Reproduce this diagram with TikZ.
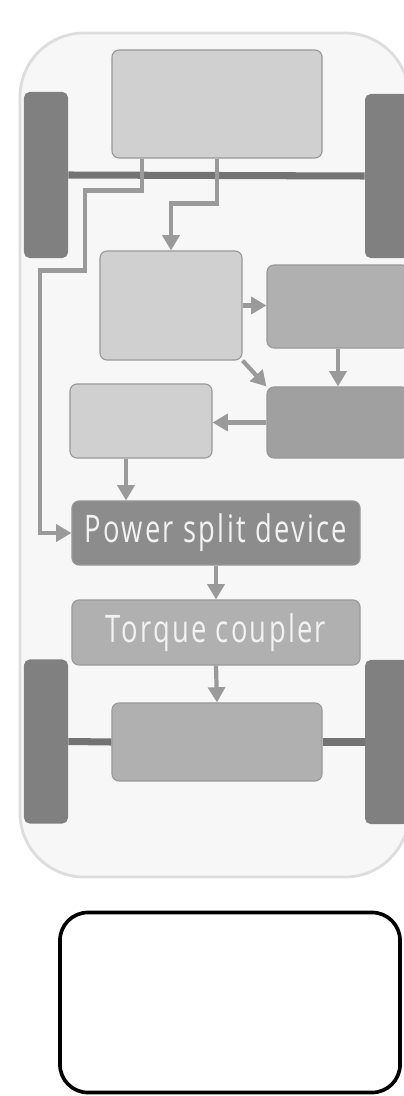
\documentclass[tikz,border=0pt]{standalone}
\usepackage{fontspec}
\setmainfont{Open Sans}
\newfontfamily\labelfont[FakeStretch=0.72,LetterSpace=6]{Open Sans}
\usepackage{tikz}
\usetikzlibrary{arrows.meta,positioning}
\definecolor{bodyfill}{HTML}{F7F7F7}
\definecolor{bodyline}{HTML}{DDDDDD}
\definecolor{lightbox}{HTML}{D0D0D0}
\definecolor{midbox}{HTML}{B0B0B0}
\definecolor{darkbox}{HTML}{A0A0A0}
\definecolor{psdbox}{HTML}{8C8C8C}
\definecolor{boxline}{HTML}{999999}
\definecolor{wheelgray}{HTML}{808080}
\definecolor{linkgray}{HTML}{9A9A9A}

\begin{document}
\begin{tikzpicture}[
  x=0.025cm, y=-0.025cm,
  block/.style={draw=boxline,line width=0.8pt,rounded corners=5pt,
    inner sep=0pt,align=center},
  wheel/.style={fill=wheelgray,rounded corners=4pt,minimum width=1.1cm,
    inner sep=0pt},
  axle/.style={draw=wheelgray!110,line width=5pt},
  link/.style={draw=linkgray,line width=3pt},
  arrow/.style={link,-{Triangle[length=3.8mm,width=4.2mm]}},
  blocktext/.style={font=\labelfont\fontsize{27}{30}\selectfont,
    text=white!95!black}
]
  \useasboundingbox (0,0) rectangle (403,1096);

  % car body
  \draw[fill=bodyfill,draw=bodyline,line width=2pt,rounded corners=1.6cm]
    (20,33) rectangle (409,877);

  % wheels
  \node[wheel,minimum height=4.15cm] (fl) at (46,175) {};
  \node[wheel,minimum height=4.1cm] (fr) at (387,176) {};
  \node[wheel,minimum height=4.1cm] (rl) at (46,741.5) {};
  \node[wheel,minimum height=4.1cm] (rr) at (387,742) {};

  % blocks
  \node[block,fill=lightbox,minimum width=5.25cm,minimum height=2.7cm]
    (engine) at (217,104) {};
  \node[block,fill=lightbox,minimum width=3.55cm,minimum height=2.725cm]
    (gen) at (171,305.5) {};
  \node[block,fill=midbox,minimum width=3.55cm,minimum height=2.075cm]
    (motor) at (338,306.5) {};
  \node[block,fill=darkbox,minimum width=3.55cm,minimum height=1.775cm]
    (inverter) at (338,422.5) {};
  \node[block,fill=lightbox,minimum width=3.55cm,minimum height=1.85cm]
    (battery) at (141,421) {};
  \node[block,fill=psdbox,minimum width=7.2cm,minimum height=1.6cm,
    blocktext] (psd) at (216,533) {Power split device};
  \node[block,fill=midbox,minimum width=7.2cm,minimum height=1.625cm,
    blocktext] (tc) at (216,632.5) {Torque coupler};
  \node[block,fill=midbox,minimum width=5.25cm,minimum height=1.95cm]
    (diff) at (217,742) {};

  % axles
  \draw[axle] (fl.east) -- (fr.west);
  \draw[axle] (rl.east) -- (diff.west);
  \draw[axle] (diff.east) -- (rr.west);

  % connectors
  \draw[arrow] ([xshift=-1.875cm]engine.south) -- ++(0,32) -- ++(-57,0)
    -- ++(0,80) -- ++(-45,0) |- (psd.west);
  \draw[arrow] (engine.south) -- ++(0,45) -| (gen.north);
  \draw[arrow] (gen.east) -- (gen.east -| motor.west);
  \draw[arrow] (gen.south east) -- (inverter.north west);
  \draw[arrow] (motor.south) -- (inverter.north);
  \draw[arrow] (inverter.west) -- (inverter.west -| battery.east);
  \draw[arrow] ([xshift=-0.375cm]battery.south)
    -- ([xshift=-0.375cm]battery.south |- psd.north);
  \draw[arrow] (psd.south) -- (tc.north);
  \draw[arrow] (tc.south) -- (diff.north);

  % legend frame
  \node[draw=black,line width=2.6pt,rounded corners=0.7cm,
    minimum width=8.5cm,minimum height=4.5cm] (legend) at (230,1002.5) {};
\end{tikzpicture}
\end{document}
